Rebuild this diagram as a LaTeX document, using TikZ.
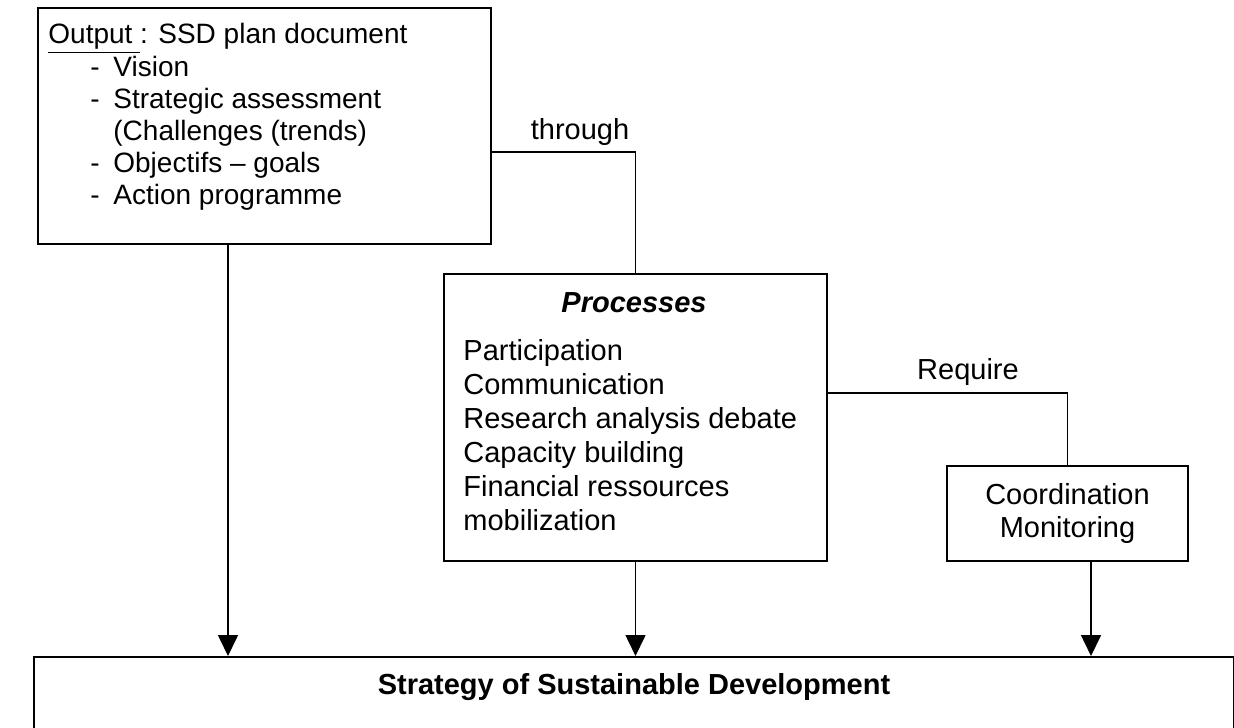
\documentclass[tikz,border=0pt]{standalone}
\usepackage{fontspec}
\setmainfont{Liberation Sans}
\usetikzlibrary{arrows.meta}

\begin{document}
\begin{tikzpicture}[x=0.5pt,y=-0.5pt]
  \useasboundingbox (0,0) rectangle (1234,727);

  \begin{scope}[every node/.style={draw,line width=1pt,rectangle,anchor=north west,inner sep=0pt}]
    \node[minimum width=226.5pt,minimum height=118pt] (output) at (37,7) {};
    \node[minimum width=191.5pt,minimum height=143.5pt] (processes) at (443,273) {};
    \node[minimum width=120.5pt,minimum height=47.5pt,align=center,
          font=\fontsize{14.5}{16.5}\selectfont] (coord) at (946,465) {Coordination\\Monitoring};
    \node[minimum width=600pt,minimum height=50pt,line width=1.2pt] (ssd) at (33,656) {};
  \end{scope}

  \begin{scope}[every node/.style={inner sep=0pt,font=\fontsize{14.5}{17}\selectfont}]
    \node[anchor=north west,font=\fontsize{14}{16}\selectfont] (outputtext) at (48,21) {%
      \begin{tabular}{@{\hspace{21pt}}p{11.5pt}@{}l@{}}
        \multicolumn{2}{@{}l@{}}{\underline{Output\ }: SSD plan document}\\
        - & Vision\\
        - & Strategic assessment\\
          & (Challenges (trends)\\
        - & Objectifs -- goals\\
        - & Action programme
      \end{tabular}};
    \node[font=\fontsize{14.5}{17}\selectfont\bfseries\itshape] (proctitle) at (634,303) {Processes};
    \node[anchor=north west] (proclist) at (463,336) {%
      \begin{tabular}{@{}l@{}}
        Participation\\
        Communication\\
        Research analysis debate\\
        Capacity building\\
        Financial ressources\\
        mobilization
      \end{tabular}};
    \node (through) at (580,132) {through};
    \node (require) at (968,372) {Require};
    \node[font=\fontsize{14.5}{17}\selectfont\bfseries] (ssdtitle) at (634,687) {Strategy of Sustainable Development};
  \end{scope}

  \coordinate (t)  at (634,152);
  \coordinate (r)  at (1067,393);
  \coordinate (a1) at (228,656);
  \coordinate (a3) at (1091,656);

  \begin{scope}[line width=0.8pt]
    \draw (output.east |- t) -| (processes.north);
    \draw (processes.east |- r) -| (coord.north);
  \end{scope}

  \begin{scope}[line width=0.8pt,-{Triangle[width=10pt,length=10.5pt]}]
    \draw (output.south -| a1) -- (a1);
    \draw (processes.south) -- (processes.south |- ssd.north);
    \draw (coord.south -| a3) -- (a3);
  \end{scope}

\end{tikzpicture}
\end{document}
